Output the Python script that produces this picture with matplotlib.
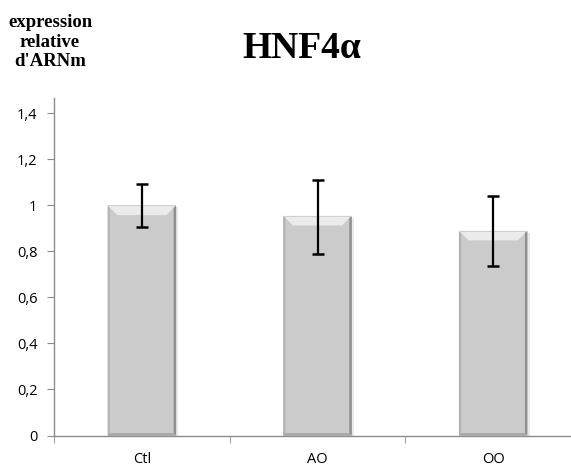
import matplotlib.pyplot as plt
from matplotlib.patches import Polygon
import numpy as np

categories = ['Ctl', 'AO', 'OO']
values = [1.0, 0.955, 0.89]
err_low = [0.095, 0.165, 0.155]
err_high = [0.095, 0.155, 0.15]
yticks = [0, 0.2, 0.4, 0.6, 0.8, 1.0, 1.2, 1.4]
ytick_labels = ['0', '0,2', '0,4', '0,6', '0,8', '1', '1,2', '1,4']

fig = plt.figure(figsize=(5.71, 4.68), dpi=100)
ax = fig.add_axes([54 / 571, 1 - 435.5 / 468, 527 / 571, 337.5 / 468])
ax.set_xlim(-0.5, 2.5)
ax.set_ylim(0, 1.467)

x = np.arange(len(categories))
w = 0.39
bars = ax.bar(x, values, width=w, color='#cbcbcb', edgecolor='none', zorder=2)

# bevel look: light top, darker sides, soft shadow
dx, dy = 0.055, 0.042
for b in bars:
    l, r, t = b.get_x(), b.get_x() + b.get_width(), b.get_height()
    ax.add_patch(Polygon([(l + 0.012, 0), (r + 0.012, 0), (r + 0.012, t - 0.008), (l + 0.012, t - 0.008)],
                         closed=True, color='#e9e9e9', zorder=1, lw=0))
    ax.add_patch(Polygon([(l, t), (r, t), (r - dx, t - dy), (l + dx, t - dy)],
                         closed=True, color='#ebebeb', zorder=3, lw=0))
    ax.add_patch(Polygon([(r, t), (r, 0), (r - 0.014, 0.01), (r - 0.014, t - 0.01)],
                         closed=True, color='#8f8f8f', zorder=3, lw=0))
    ax.add_patch(Polygon([(l, t), (l, 0), (l + 0.012, 0.01), (l + 0.012, t - 0.01)],
                         closed=True, color='#b2b2b2', zorder=3, lw=0))
    ax.add_patch(Polygon([(l, 0), (r, 0), (r - 0.014, 0.01), (l + 0.012, 0.01)],
                         closed=True, color='#a5a5a5', zorder=3, lw=0))
    ax.add_patch(Polygon([(l, t), (r, t), (r, t - 0.004), (l, t - 0.004)],
                         closed=True, color='#d0d0d0', zorder=3, lw=0))

ax.errorbar(x, values, yerr=[err_low, err_high], fmt='none', ecolor='black',
            elinewidth=1.6, capsize=4.5, capthick=1.8, zorder=4)

for s in ['top', 'right']:
    ax.spines[s].set_visible(False)
for s in ['left', 'bottom']:
    ax.spines[s].set_color('#8c8c8c')
    ax.spines[s].set_linewidth(1.0)

ax.set_yticks(yticks)
ax.set_yticklabels(ytick_labels, fontsize=10.5, family='Open Sans')
ax.tick_params(axis='y', direction='out', length=5, color='#8c8c8c', pad=7)
ax.set_xticks(x)
ax.set_xticklabels(categories, fontsize=10.5, family='Open Sans')
ax.tick_params(axis='x', which='major', length=0, pad=12)
ax.set_xticks([-0.5, 0.5, 1.5, 2.5], minor=True)
ax.tick_params(axis='x', which='minor', direction='out', length=5, color='#8c8c8c')

fig.text(0.529, 0.897, 'HNF4α', fontsize=27, fontweight='bold', family='Liberation Serif',
         ha='center', va='center')
fig.text(0.0876, 0.91, "expression\nrelative\nd'ARNm", fontsize=13.5, fontweight='bold',
         family='Liberation Serif', ha='center', va='center', multialignment='center',
         linespacing=1.2)

fig.savefig('out.png', dpi=100)
